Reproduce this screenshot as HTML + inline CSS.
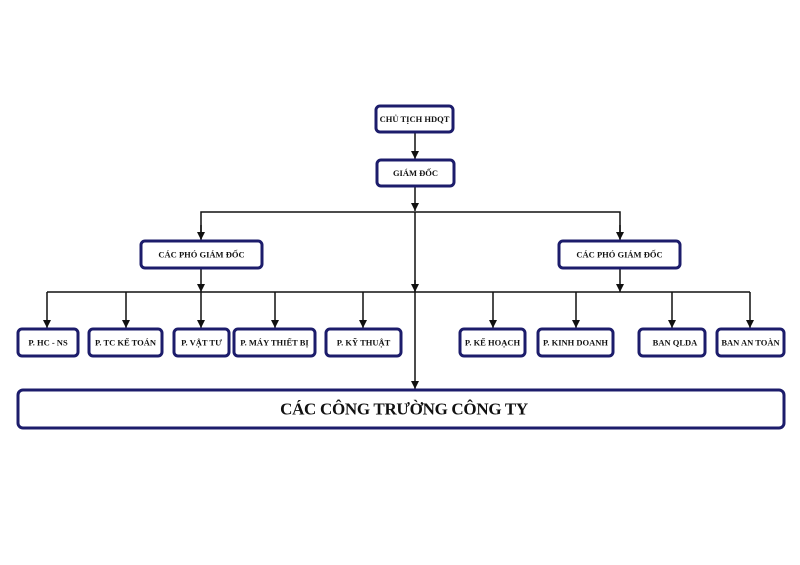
<!DOCTYPE html>
<html><head><meta charset="utf-8"><style>
html,body{margin:0;padding:0;background:#fff;}
svg{display:block}
text{font-family:"Liberation Serif",serif;font-weight:bold;fill:#111;text-anchor:middle;dominant-baseline:central}
.b{fill:#fff;stroke:#1c1c6b;stroke-width:3}
.l{stroke:#111;stroke-width:1.5;fill:none}
</style></head><body>
<svg width="800" height="565" viewBox="0 0 800 565">
<defs><marker id="a" markerWidth="9" markerHeight="9" refX="8" refY="4" orient="auto" markerUnits="userSpaceOnUse"><path d="M0,0 L8,4 L0,8 z" fill="#111"/></marker></defs>
<line class="l" x1="415" y1="133" x2="415" y2="159" marker-end="url(#a)"/>
<line class="l" x1="415" y1="187" x2="415" y2="211" marker-end="url(#a)"/>
<polyline class="l" points="201,239 201,212 620,212 620,239" />
<line class="l" x1="201" y1="225" x2="201" y2="240" marker-end="url(#a)"/>
<line class="l" x1="620" y1="225" x2="620" y2="240" marker-end="url(#a)"/>
<line class="l" x1="415" y1="212" x2="415" y2="389" marker-end="url(#a)"/>
<line class="l" x1="415" y1="280" x2="415" y2="292" marker-end="url(#a)"/>
<line class="l" x1="47" y1="292" x2="750" y2="292"/>
<line class="l" x1="201" y1="269" x2="201" y2="292" marker-end="url(#a)"/>
<line class="l" x1="620" y1="269" x2="620" y2="292" marker-end="url(#a)"/>
<line class="l" x1="47" y1="292" x2="47" y2="328" marker-end="url(#a)"/>
<line class="l" x1="126" y1="292" x2="126" y2="328" marker-end="url(#a)"/>
<line class="l" x1="201" y1="292" x2="201" y2="328" marker-end="url(#a)"/>
<line class="l" x1="275" y1="292" x2="275" y2="328" marker-end="url(#a)"/>
<line class="l" x1="363" y1="292" x2="363" y2="328" marker-end="url(#a)"/>
<line class="l" x1="493" y1="292" x2="493" y2="328" marker-end="url(#a)"/>
<line class="l" x1="576" y1="292" x2="576" y2="328" marker-end="url(#a)"/>
<line class="l" x1="672" y1="292" x2="672" y2="328" marker-end="url(#a)"/>
<line class="l" x1="750" y1="292" x2="750" y2="328" marker-end="url(#a)"/>
<rect class="b" x="376" y="106" width="77" height="26" rx="4"/><text x="414.5" y="119" font-size="8.5">CHỦ TỊCH HDQT</text>
<rect class="b" x="377" y="160" width="77" height="26" rx="4"/><text x="415.5" y="173" font-size="8.5">GIÁM ĐỐC</text>
<rect class="b" x="141" y="241" width="121" height="27" rx="4"/><text x="201.5" y="254.5" font-size="8.5">CÁC PHÓ GIÁM ĐỐC</text>
<rect class="b" x="559" y="241" width="121" height="27" rx="4"/><text x="619.5" y="254.5" font-size="8.5">CÁC PHÓ GIÁM ĐỐC</text>
<rect class="b" x="18" y="329" width="60" height="27" rx="4"/><text x="48" y="342.5" font-size="8.5">P. HC - NS</text>
<rect class="b" x="89" y="329" width="73" height="27" rx="4"/><text x="125.5" y="342.5" font-size="8.5">P. TC KẾ TOÁN</text>
<rect class="b" x="174" y="329" width="55" height="27" rx="4"/><text x="201.5" y="342.5" font-size="8.5">P. VẬT TƯ</text>
<rect class="b" x="234" y="329" width="81" height="27" rx="4"/><text x="274.5" y="342.5" font-size="8.5">P. MÁY THIẾT BỊ</text>
<rect class="b" x="326" y="329" width="75" height="27" rx="4"/><text x="363.5" y="342.5" font-size="8.5">P. KỸ THUẬT</text>
<rect class="b" x="460" y="329" width="65" height="27" rx="4"/><text x="492.5" y="342.5" font-size="8.5">P. KẾ HOẠCH</text>
<rect class="b" x="538" y="329" width="75" height="27" rx="4"/><text x="575.5" y="342.5" font-size="8.5">P. KINH DOANH</text>
<rect class="b" x="639" y="329" width="66" height="27" rx="4"/><text x="675" y="342.5" font-size="8.5">BAN QLDA</text>
<rect class="b" x="717" y="329" width="67" height="27" rx="4"/><text x="750.5" y="342.5" font-size="8.5">BAN AN TOÀN</text>
<rect class="b" x="18" y="390" width="766" height="38" rx="5"/><text x="404" y="409" font-size="17" letter-spacing="-0.3">CÁC CÔNG TRƯỜNG CÔNG TY</text>
</svg>
</body></html>
